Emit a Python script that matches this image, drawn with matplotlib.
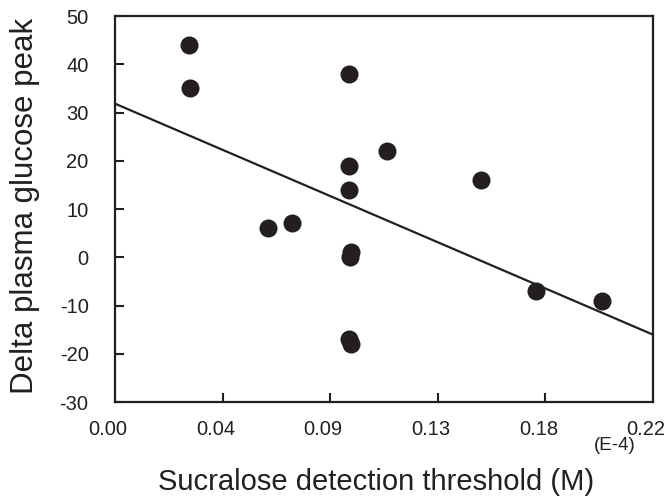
import numpy as np
import matplotlib
matplotlib.use('Agg')
import matplotlib.pyplot as plt
from matplotlib import transforms

# Sucralose detection threshold (x1E-4 M) vs delta plasma glucose peak
threshold = [0.0304, 0.0307, 0.0957, 0.0957, 0.0957, 0.1113, 0.1497, 0.0627,
             0.0725, 0.0965, 0.0960, 0.1722, 0.1993, 0.0957, 0.0965]
glucose_peak = [44, 35, 38, 19, 14, 22, 16, 6, 7, 1, 0, -7, -9, -17, -18]

x_ticks = [0.0, 0.044, 0.088, 0.132, 0.176, 0.22]
y_ticks = [-30, -20, -10, 0, 10, 20, 30, 40, 50]

ink = '#231f20'
plt.rcParams['font.family'] = ['Liberation Sans', 'DejaVu Sans']
plt.rcParams['text.color'] = ink

fig = plt.figure(figsize=(6.69, 4.96), dpi=100)
ax = fig.add_axes([0.1719, 0.1895, 0.8042, 0.7782])

ax.plot(threshold, glucose_peak, 'o', color=ink, markersize=13,
        markeredgewidth=0, zorder=3)

# least squares trend line over the full x range
slope, intercept = np.polyfit(threshold, glucose_peak, 1)
xs = np.array([x_ticks[0], x_ticks[-1]])
ax.plot(xs, intercept + slope * xs, color=ink, linewidth=1.6, zorder=2)

ax.set_xlim(x_ticks[0], x_ticks[-1])
ax.set_ylim(y_ticks[0], y_ticks[-1])
ax.set_xticks(x_ticks)
ax.set_xticklabels([f'{v:.2f}' for v in x_ticks])
ax.set_yticks(y_ticks)
ax.set_yticklabels([str(v) for v in y_ticks])

ax.tick_params(axis='both', direction='in', length=6.5, width=1.5,
               colors=ink, labelsize=14.5)
ax.tick_params(axis='x', pad=13)
ax.tick_params(axis='y', pad=19)
for side in ax.spines.values():
    side.set_linewidth(1.6)
    side.set_color(ink)

shift = transforms.ScaledTranslation(-7 / 100, 0, fig.dpi_scale_trans)
for lbl in ax.get_xticklabels():
    lbl.set_transform(lbl.get_transform() + shift)

fig.text(615 / 669, 1 - 445 / 496, '(E-4)', fontsize=13.5, ha='center',
         va='center', color=ink)
fig.text(376 / 669, 1 - 490 / 496, 'Sucralose detection threshold (M)',
         fontsize=21, ha='center', va='baseline', color=ink)
fig.text(25 / 669, 1 - 206 / 496, 'Delta plasma glucose peak', fontsize=22.5,
         rotation=90, ha='center', va='center', color=ink)

fig.savefig('out.png', dpi=100)
